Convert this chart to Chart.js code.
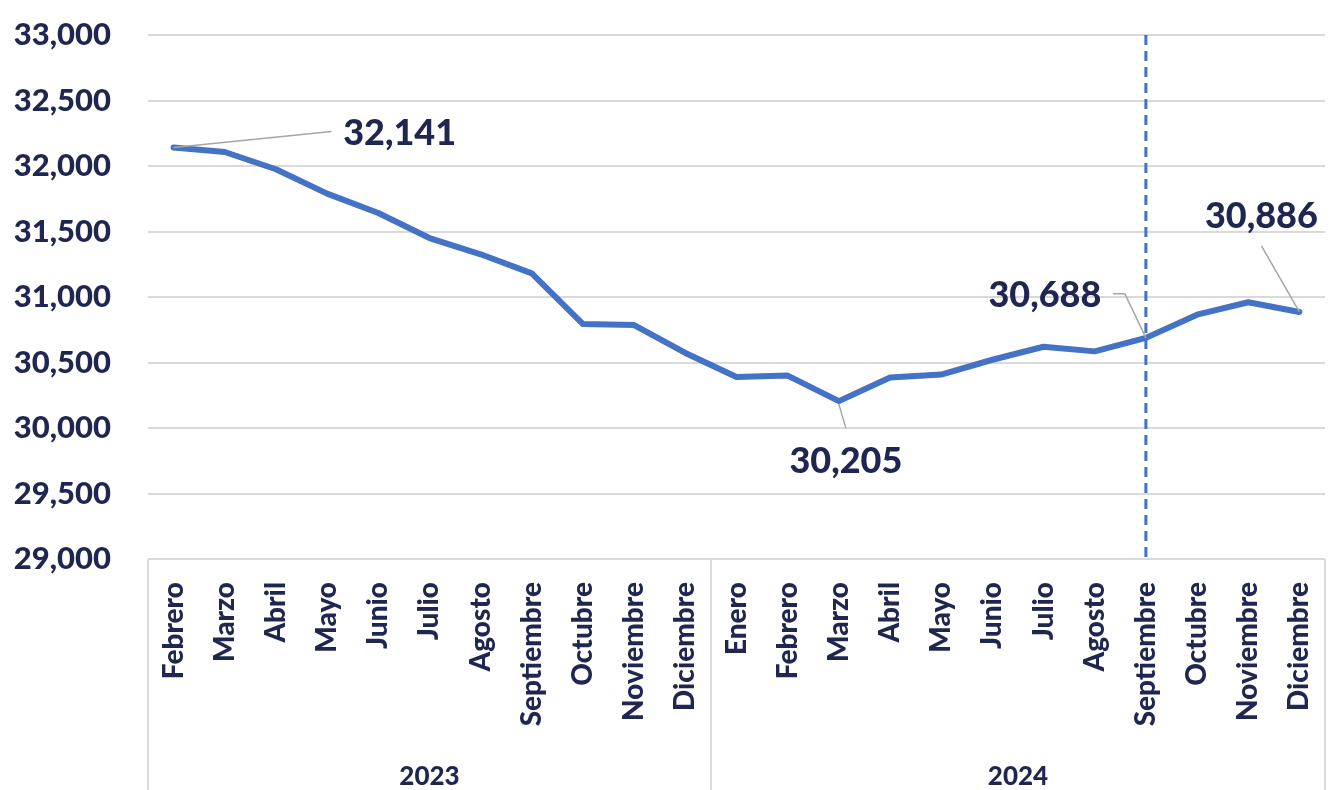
<!DOCTYPE html>
<html>
<head>
<meta charset="utf-8">
<script src="https://cdn.jsdelivr.net/npm/chart.js@4.4.1/dist/chart.umd.min.js"></script>
<style>
  html, body { margin: 0; padding: 0; background: #ffffff; }
  #wrap { width: 1329px; height: 790px; position: relative; }
</style>
</head>
<body>
<div id="wrap"><canvas id="c"></canvas></div>
<script>
// ---- data ----
const years = ['2023', '2024'];
const months2023 = ['Febrero','Marzo','Abril','Mayo','Junio','Julio','Agosto','Septiembre','Octubre','Noviembre','Diciembre'];
const months2024 = ['Enero','Febrero','Marzo','Abril','Mayo','Junio','Julio','Agosto','Septiembre','Octubre','Noviembre','Diciembre'];
const values2023 = [32141, 32107, 31975, 31789, 31641, 31450, 31326, 31180, 30793, 30786, 30573];
const values2024 = [30390, 30400, 30205, 30385, 30408, 30521, 30620, 30585, 30688, 30865, 30960, 30886];
const yTicks = [29000, 29500, 30000, 30500, 31000, 31500, 32000, 32500, 33000];
const labeledIndices = [0, 13, 19, 22];
const markerIndex = 19; // Septiembre 2024

const categories = months2023.concat(months2024);
const values = values2023.concat(values2024);
const groupCounts = [months2023.length, months2024.length];

const TEXT = '#1f2650';
const BLUE = '#4472C4';
const GRID = '#d9d9d9';
const FONT = 'Lato, "Open Sans", sans-serif';
const W = '900';

// label placement (offsets from the data point, pixels)
const labelStyle = {
  0:  { tx: 226, ty: -14, leader: [[0,0],[158,-16]] },
  13: { tx: 7,   ty: 60,  leader: [[0,3],[7,27]] },
  19: { tx: -101, ty: -42, leader: [[0,0],[-21,-44],[-33,-44]] },
  22: { tx: -38, ty: -96, leader: [[0,0],[-38,-66]] }
};

const decorPlugin = {
  id: 'decor',
  afterDatasetsDraw(chart) {
    const ctx = chart.ctx;
    const x = chart.scales.x, y = chart.scales.y;
    const area = chart.chartArea;
    ctx.save();
    // dashed marker line
    const mx = x.getPixelForValue(markerIndex);
    ctx.strokeStyle = BLUE; ctx.lineWidth = 3; ctx.setLineDash([10, 6]);
    ctx.beginPath(); ctx.moveTo(mx, area.top); ctx.lineTo(mx, area.bottom); ctx.stroke();
    ctx.setLineDash([]);
    // data labels
    labeledIndices.forEach(i => {
      const st = labelStyle[i];
      const px = x.getPixelForValue(i), py = y.getPixelForValue(values[i]);
      ctx.strokeStyle = '#a6a6a6'; ctx.lineWidth = 1.5;
      ctx.beginPath();
      st.leader.forEach((p, k) => { if (k === 0) ctx.moveTo(px + p[0], py + p[1]); else ctx.lineTo(px + p[0], py + p[1]); });
      ctx.stroke();
      ctx.fillStyle = TEXT; ctx.font = W + ' 36px ' + FONT;
      ctx.textAlign = 'center'; ctx.textBaseline = 'middle';
      ctx.fillText(values[i].toLocaleString('en-US'), px + st.tx, py + st.ty);
    });
    // category box & year labels
    const bottom = chart.height;
    ctx.strokeStyle = GRID; ctx.lineWidth = 2;
    ctx.beginPath(); ctx.moveTo(area.left, area.bottom); ctx.lineTo(area.right, area.bottom); ctx.stroke();
    let start = 0;
    const edges = [area.left];
    groupCounts.forEach((n, g) => {
      const end = start + n - 1;
      const right = (end === categories.length - 1) ? area.right : (x.getPixelForValue(end) + x.getPixelForValue(end + 1)) / 2;
      edges.push(right);
      ctx.fillStyle = TEXT; ctx.font = W + ' 26px ' + FONT;
      ctx.textAlign = 'center'; ctx.textBaseline = 'middle';
      ctx.fillText(years[g], (edges[g] + right) / 2, bottom - 13);
      start += n;
    });
    edges.forEach(ex => { ctx.beginPath(); ctx.moveTo(ex, area.bottom); ctx.lineTo(ex, bottom); ctx.stroke(); });
    ctx.restore();
  }
};

new Chart(document.getElementById('c'), {
  type: 'line',
  data: {
    labels: categories,
    datasets: [{
      data: values,
      borderColor: BLUE,
      borderWidth: 6,
      pointRadius: 0,
      tension: 0,
      borderJoinStyle: 'round',
      borderCapStyle: 'round'
    }]
  },
  options: {
    responsive: true,
    maintainAspectRatio: false,
    animation: false,
    layout: { padding: { top: 35, right: 4, left: 0, bottom: 0 } },
    plugins: { legend: { display: false }, tooltip: { enabled: false } },
    scales: {
      x: {
        offset: true,
        grid: { display: false, drawTicks: false },
        border: { display: false },
        ticks: {
          autoSkip: false, minRotation: 90, maxRotation: 90, padding: 23,
          color: TEXT, font: { family: FONT, size: 28, weight: W }
        },
        afterFit(s) { s.height = 231; s.paddingLeft = 0; s.paddingRight = 0; }
      },
      y: {
        min: 29000, max: 33000,
        afterBuildTicks(s) { s.ticks = yTicks.map(v => ({ value: v })); },
        grid: { color: GRID, lineWidth: 2, drawTicks: false },
        border: { display: false },
        ticks: {
          padding: 37, color: TEXT,
          font: { family: FONT, size: 31, weight: W },
          callback: v => v.toLocaleString('en-US')
        },
        afterFit(s) { s.width = 148; s.paddingTop = 0; s.paddingBottom = 0; }
      }
    }
  },
  plugins: [decorPlugin]
});
</script>
</body>
</html>
